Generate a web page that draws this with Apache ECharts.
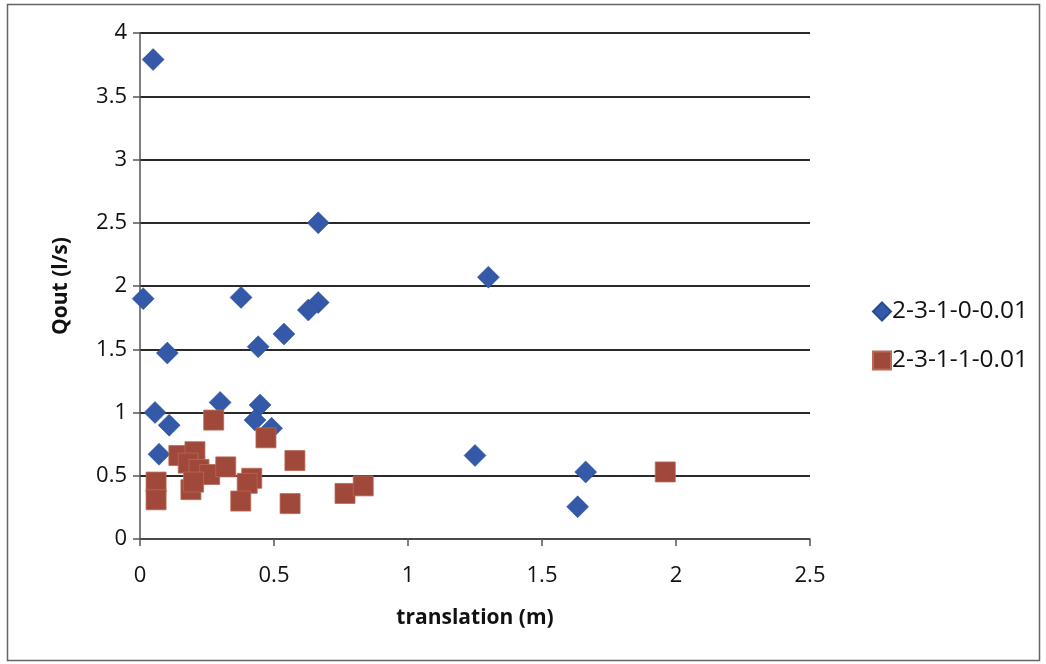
<!DOCTYPE html>
<html>
<head>
<meta charset="utf-8">
<script src="https://cdn.jsdelivr.net/npm/echarts@6/dist/echarts.min.js"></script>
<style>
  html, body { margin: 0; padding: 0; background: #fff; }
  #chart { width: 1046px; height: 664px; }
</style>
</head>
<body>
<div id="chart"></div>
<script>
// Series names
const seriesNames = ['2-3-1-0-0.01', '2-3-1-1-0.01'];

// Series 1: translation (m), Qout (l/s)
const s1Translation = [0.049, 0.012, 0.665, 0.377, 1.30, 0.665, 0.628, 0.537, 0.441, 0.102,
                       0.299, 0.448, 0.056, 0.109, 0.429, 0.491, 0.071, 1.25, 1.663, 1.633];
const s1Qout        = [3.79, 1.90, 2.50, 1.91, 2.07, 1.87, 1.81, 1.62, 1.52, 1.47,
                       1.08, 1.06, 1.00, 0.90, 0.94, 0.875, 0.67, 0.66, 0.53, 0.255];

// Series 2: translation (m), Qout (l/s)
const s2Translation = [0.06, 0.06, 0.275, 0.47, 0.578, 0.145, 0.205, 0.18, 0.22, 0.19,
                       0.26, 0.32, 0.417, 0.40, 0.376, 0.56, 0.765, 0.833, 1.96, 0.20];
const s2Qout        = [0.45, 0.31, 0.94, 0.80, 0.62, 0.66, 0.69, 0.60, 0.55, 0.39,
                       0.51, 0.57, 0.48, 0.44, 0.30, 0.28, 0.36, 0.42, 0.53, 0.45];

const pairs = (xs, ys) => xs.map((x, i) => [x, ys[i]]);

const font = '"Open Sans", "Noto Sans", sans-serif';
const blue = '#3459a8';
const red = '#a0483a';

const chart = echarts.init(document.getElementById('chart'), null, { renderer: 'canvas' });

chart.setOption({
  animation: false,
  backgroundColor: '#fff',
  textStyle: { fontFamily: font },
  graphic: [{
    type: 'rect',
    shape: { x: 7.5, y: 4.5, width: 1032, height: 656 },
    style: { fill: 'none', stroke: '#666', lineWidth: 1.5 },
    silent: true,
    z: -1
  }],
  grid: { left: 140, right: 236, top: 33, bottom: 125 },
  legend: {
    orient: 'vertical',
    left: 867,
    top: 294,
    itemGap: 24,
    itemWidth: 18,
    itemHeight: 18,
    textStyle: { fontFamily: font, fontSize: 24.5, color: '#111', padding: [0, 0, 0, -4] },
    data: [
      { name: seriesNames[0], icon: 'diamond', itemStyle: { color: blue } },
      { name: seriesNames[1], icon: 'rect', itemStyle: { color: red } }
    ]
  },
  xAxis: {
    type: 'value',
    min: 0, max: 2.5, interval: 0.5,
    name: 'translation (m)',
    nameLocation: 'middle',
    nameGap: 69,
    nameTextStyle: { fontFamily: font, fontSize: 21, fontWeight: 'bold', color: '#111' },
    axisLine: { show: true, onZero: false, lineStyle: { color: '#555', width: 1.5 } },
    axisTick: { show: true, inside: false, length: 7, lineStyle: { color: '#555', width: 1.5 } },
    axisLabel: { fontFamily: font, fontSize: 22, color: '#111', margin: 26 },
    splitLine: { show: false }
  },
  yAxis: {
    type: 'value',
    min: 0, max: 4, interval: 0.5,
    name: 'Qout (l/s)',
    nameLocation: 'middle',
    nameGap: 68,
    nameRotate: 90,
    nameTextStyle: { fontFamily: font, fontSize: 21, fontWeight: 'bold', color: '#111' },
    axisLine: { show: true, lineStyle: { color: '#555', width: 1.5 } },
    axisTick: { show: true, inside: false, length: 7, lineStyle: { color: '#555', width: 1.5 } },
    axisLabel: { fontFamily: font, fontSize: 22, color: '#111', margin: 13 },
    splitLine: { show: true, lineStyle: { color: '#2a2a2a', width: 1.8 } }
  },
  series: [
    {
      name: seriesNames[0],
      type: 'scatter',
      symbol: 'diamond',
      symbolSize: 22,
      itemStyle: { color: blue, borderColor: '#2a4a90', borderWidth: 0.5, opacity: 1 },
      data: pairs(s1Translation, s1Qout),
      z: 3
    },
    {
      name: seriesNames[1],
      type: 'scatter',
      symbol: 'rect',
      symbolSize: 20,
      itemStyle: { color: red, borderColor: '#b86a55', borderWidth: 0.8, opacity: 1 },
      data: pairs(s2Translation, s2Qout),
      z: 4
    }
  ]
});
</script>
</body>
</html>
